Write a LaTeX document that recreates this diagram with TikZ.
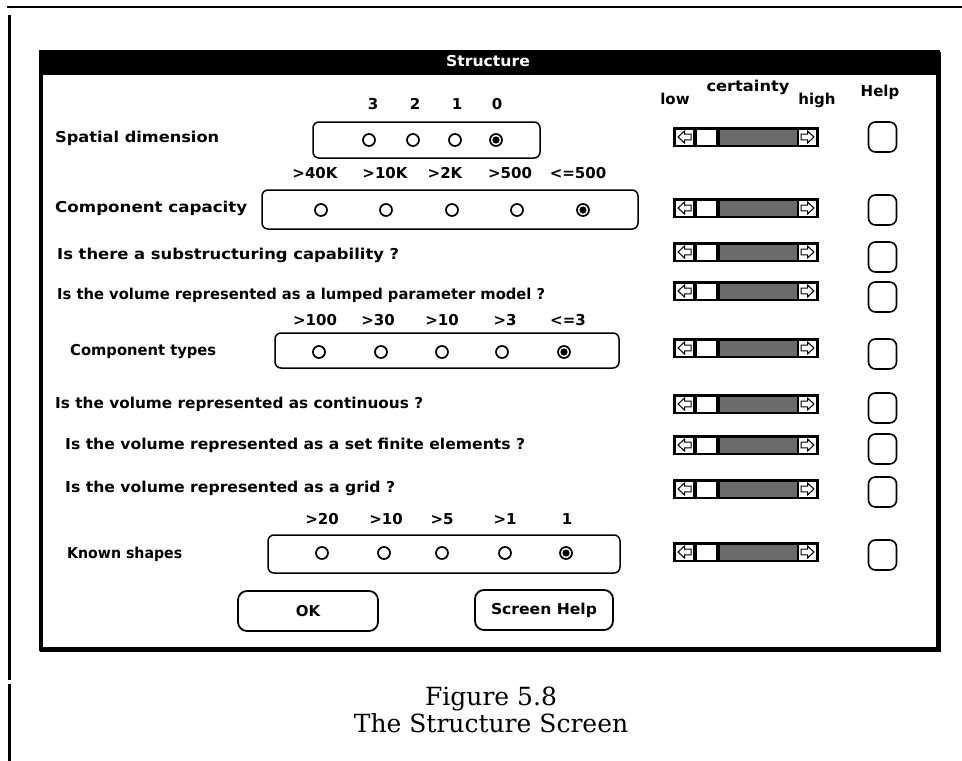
\documentclass[tikz,border=0pt]{standalone}
\usepackage{fontspec}
\usepackage{graphicx}
\newfontfamily\uifam{DejaVu Sans}
\newfontfamily\capfam{DejaVu Serif}
\newcommand\ui{\uifam\bfseries\fontsize{15}{18}\selectfont}
\newcommand\capf{\capfam\fontsize{25}{28}\selectfont}
\newcommand\fw[2]{\resizebox{#1pt}{\height}{#2}}
\tikzset{
 lbl/.style={font=\ui, anchor=mid west, inner sep=0},
 hdr/.style={font=\ui, anchor=mid, inner sep=0},
 grp/.style={line width=1.5pt, rounded corners=6pt},
 radio/.style={circle, draw, line width=1.7pt, minimum size=12pt, inner sep=0},
 helpbox/.style={draw, line width=1.6pt, rounded corners=7pt, minimum width=28pt, minimum height=30pt, inner sep=0},
 btn/.style={draw, line width=1.8pt, rounded corners=9pt, inner sep=0, font=\ui},
 sliderbody/.style={fill=black, minimum width=146pt, minimum height=20pt, inner sep=0},
}
\newcommand\mkslider[2]{%
 \begin{scope}[shift={(0,#2)}]
 \node[sliderbody] (#1) at (746,0) {};
 \fill[white] (676,-7.5) rectangle (693,7.5);
 \draw[line width=1pt,line join=miter] (678,0) -- (684.5,-6) -- (684.5,-2.8) -- (691,-2.8) -- (691,2.8) -- (684.5,2.8) -- (684.5,6) -- cycle;
 \fill[white] (697,-7.5) rectangle (716,7.5);
 \fill[black!58] (720,-7.5) rectangle (797,7.5);
 \fill[white] (799,-7.5) rectangle (816,7.5);
 \draw[line width=1pt,line join=miter] (814,0) -- (807.5,-6) -- (807.5,-2.8) -- (801,-2.8) -- (801,2.8) -- (807.5,2.8) -- (807.5,6) -- cycle;
 \end{scope}}
\newcommand\radios[4]{% prefix, y, x list, selected index
 \foreach \xx [count=\i] in {#3} {\node[radio] (#1\i) at (\xx,#2) {};}
 \fill (#1#4) circle (3.6pt);}
\newcommand\hdrs[3]{% prefix, y, x/text list
 \foreach \hxx/\htxt [count=\i] in {#3} {\node[hdr] (#1\i) at (\hxx,#2) {\htxt};}}
\begin{document}
\begin{tikzpicture}[x=1pt,y=-1pt]
\useasboundingbox (0,0) rectangle (962,761);
\fill[white] (0,0) rectangle (962,761);
% page frame
\draw[line width=2.5pt] (7,7) -- (962,7);
\draw[line width=3pt] (9.5,15) -- (9.5,680);
\draw[line width=3pt] (9.5,684) -- (9.5,761);
% dialog
\draw[line width=3.5pt] (41,52) rectangle (938,649);
\draw[line width=2pt] (40,651) -- (940,651) -- (940,52);
\fill (39.25,50.25) rectangle (939.75,75);
\node[font=\ui, text=white, inner sep=0, anchor=mid] (title) at (488,64) {\fw{84}{Structure}};
% column headers
\node[hdr] (low) at (675,102) {low};
\node[hdr] (cert) at (748,89) {\fw{83}{certainty}};
\node[hdr] (high) at (817,102) {high};
\node[hdr] (helph) at (880,94) {Help};
% row 1
\node[lbl] (l1) at (55,140) {\fw{164}{Spatial dimension}};
\draw[grp] (313,122) rectangle (540,158);
\hdrs{ha}{107}{373/3,415/2,457/1,497/0}
\radios{ra}{140}{369,413,455,496}{4}
% row 2
\node[lbl] (l2) at (55,210) {\fw{192}{Component capacity}};
\draw[grp] (262,190) rectangle (638,229);
\hdrs{hb}{176}{315/>40K,385/>10K,445/>2K,510/>500,578/<=500}
\radios{rb}{210}{321,386,452,517,583}{5}
% rows 3-4
\node[lbl] (l3) at (57,257) {\fw{342}{Is there a substructuring capability ?}};
\node[lbl] (l4) at (57,297) {\fw{488}{Is the volume represented as a lumped parameter model ?}};
% row 5
\node[lbl] (l5) at (70,353) {\fw{146}{Component types}};
\draw[grp] (275,333) rectangle (619,368);
\hdrs{hc}{323}{315/>100,378/>30,442/>10,505/>3,568/<=3}
\radios{rc}{352}{319,381,442,502,564}{5}
% rows 6-8
\node[lbl] (l6) at (55,406) {\fw{368}{Is the volume represented as continuous ?}};
\node[lbl] (l7) at (65,447) {\fw{460}{Is the volume represented as a set finite elements ?}};
\node[lbl] (l8) at (65,490) {\fw{330}{Is the volume represented as a grid ?}};
% row 9
\node[lbl] (l9) at (67,556) {\fw{115}{Known shapes}};
\draw[grp] (268,535) rectangle (620,573);
\hdrs{hd}{522}{322/>20,386/>10,442/>5,505/>1,567/1}
\radios{rd}{553}{322,384,442,505,566}{5}
% sliders
\mkslider{s1}{137}
\mkslider{s2}{208}
\mkslider{s3}{252}
\mkslider{s4}{291}
\mkslider{s5}{348}
\mkslider{s6}{404}
\mkslider{s7}{445}
\mkslider{s8}{489}
\mkslider{s9}{552}
% help boxes
\foreach \yy [count=\i] in {137,210,257,297,354,408,449,492,555}
 {\node[helpbox] (hb\i) at (882.5,\yy) {};}
% buttons
\node[btn, minimum width=140pt, minimum height=40pt] (ok) at (308,611) {OK};
\node[btn, minimum width=138pt, minimum height=40pt] (shelp) at (544,610) {\fw{106}{Screen Help}};
% caption
\node[font=\capf, anchor=base, inner sep=0] (cap1) at (491,705) {Figure 5.8};
\node[font=\capf, anchor=base, inner sep=0] (cap2) at (491,732) {The Structure Screen};
\end{tikzpicture}
\end{document}
